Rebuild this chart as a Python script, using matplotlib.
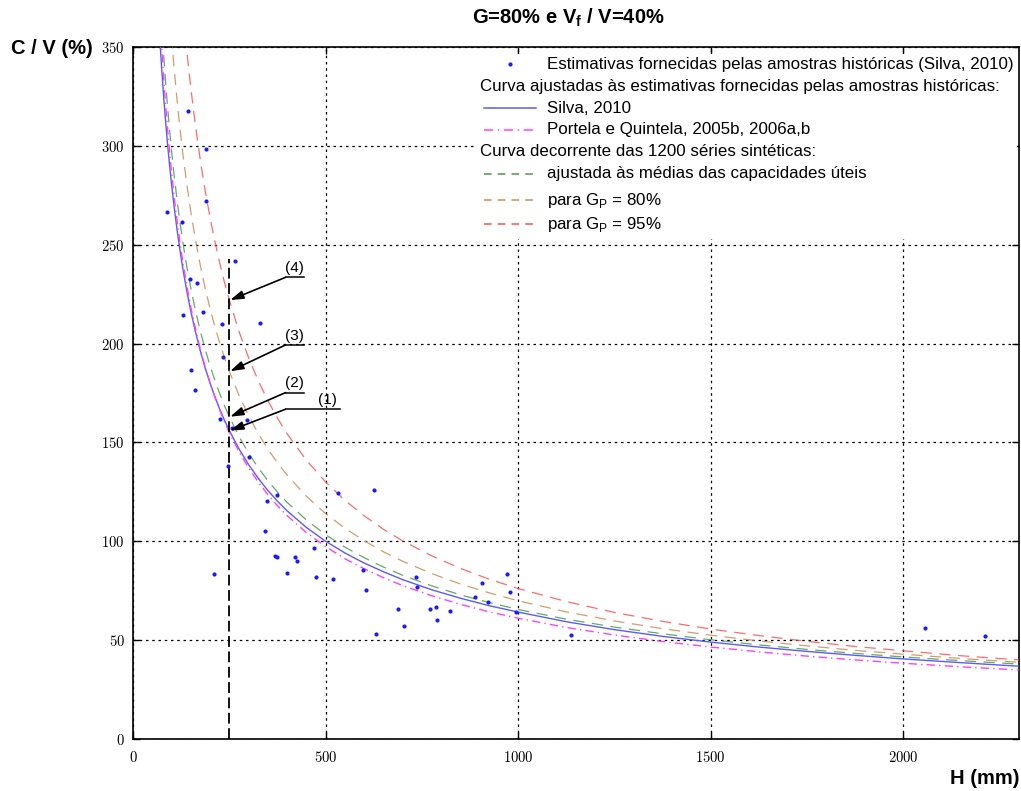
import matplotlib
matplotlib.use("Agg")
import matplotlib.pyplot as plt
from matplotlib.patches import Rectangle
from matplotlib.lines import Line2D

plt.rcParams['font.family'] = ['Liberation Sans', 'DejaVu Sans']
plt.rcParams['axes.formatter.use_mathtext'] = True

H_curva = [70, 75, 80, 85, 90, 95, 100, 107, 115, 122, 130, 140, 150, 162, 175, 187,
           200, 212, 225, 237, 250, 275, 300, 325, 350, 375, 400, 450, 500, 550, 600,
           650, 700, 775, 850, 925, 1000, 1125, 1250, 1375, 1500, 1625, 1750, 1875,
           2000, 2150, 2300]
cv_silva = [352.8, 337.5, 323.8, 311.5, 300.3, 290.1, 280.7, 268.8, 256.6, 247.1, 237.2,
            226.2, 216.4, 206.0, 196.1, 187.9, 180.0, 173.4, 166.9, 161.4, 156.0, 146.8,
            138.8, 131.9, 125.7, 120.3, 115.4, 107.0, 100.0, 94.1, 89.0, 84.6, 80.6, 75.5,
            71.2, 67.4, 64.2, 59.3, 55.3, 51.9, 49.0, 46.5, 44.3, 42.3, 40.5, 38.6, 36.8]
cv_portela = [364.6, 348.1, 333.3, 320.0, 308.0, 297.0, 286.9, 274.1, 261.2, 251.0, 240.5,
              228.8, 218.5, 207.5, 197.0, 188.4, 180.1, 173.2, 166.4, 160.7, 155.0, 145.4,
              137.1, 130.0, 123.6, 118.0, 113.0, 104.4, 97.3, 91.2, 86.1, 81.6, 77.6, 72.5,
              68.1, 64.3, 61.1, 56.4, 52.6, 49.3, 46.5, 44.1, 41.9, 40.0, 38.3, 36.5, 34.9]
cv_medias = [376.4, 359.7, 344.7, 331.3, 319.1, 307.9, 297.7, 284.7, 271.6, 261.2, 250.5,
             238.6, 228.1, 216.8, 206.1, 197.3, 188.8, 181.7, 174.7, 168.8, 163.0, 153.1,
             144.6, 137.2, 130.7, 124.9, 119.7, 110.8, 103.3, 97.1, 91.7, 87.0, 82.8, 77.5,
             72.9, 69.0, 65.5, 60.6, 56.6, 53.2, 50.2, 47.6, 45.3, 43.3, 41.5, 39.6, 37.9]
cv_gp80 = [456.9, 435.2, 415.8, 398.4, 382.6, 368.3, 355.2, 338.6, 321.8, 308.7, 295.1,
           280.1, 266.8, 252.7, 239.3, 228.3, 217.7, 209.0, 200.4, 193.1, 186.0, 173.9,
           163.5, 154.5, 146.7, 139.7, 133.5, 122.8, 114.0, 106.6, 100.3, 94.7, 89.9, 83.7,
           78.4, 73.9, 69.9, 64.3, 59.7, 55.8, 52.5, 49.6, 47.1, 44.8, 42.9, 40.7, 38.8]
cv_gp95 = [593.3, 562.5, 535.2, 510.8, 488.7, 468.7, 450.5, 427.5, 404.4, 386.3, 367.9,
           347.4, 329.4, 310.4, 292.4, 277.8, 263.7, 252.2, 240.8, 231.3, 222.0, 206.2,
           192.9, 181.3, 171.2, 162.3, 154.4, 141.0, 130.0, 120.7, 112.9, 106.1, 100.2, 92.7,
           86.3, 80.8, 76.1, 69.5, 64.0, 59.5, 55.6, 52.3, 49.4, 46.8, 44.6, 42.1, 40.0]

# estimativas das amostras históricas (Silva, 2010)
H_amostras = [144, 190, 190, 88, 126, 264, 148, 166, 131, 182, 230, 330, 233, 150, 162,
              226, 297, 258, 301, 246, 375, 347, 342, 369, 375, 209, 399, 420, 426, 470,
              475, 518, 531, 625, 598, 606, 632, 689, 704, 735, 736, 772, 786, 790, 822,
              887, 907, 922, 972, 978, 994, 1137, 2056, 2212]
cv_amostras = [317.8, 298.4, 272.1, 266.4, 261.7, 241.9, 232.5, 230.8, 214.6, 216.1, 209.9,
               210.3, 193.4, 186.6, 176.5, 161.9, 161.2, 157.5, 142.5, 138.2, 123.3, 120.2,
               105.1, 92.6, 92.1, 83.3, 84.0, 92.2, 89.9, 96.5, 82.1, 80.9, 124.4, 126.1,
               85.5, 75.5, 53.0, 65.6, 57.3, 82.1, 76.7, 65.9, 66.6, 60.3, 64.6, 72.0, 78.9,
               69.3, 83.5, 74.5, 64.2, 52.4, 56.0, 52.1]

H_ref = 250
i_ref = H_curva.index(H_ref)

c_pts = '#1a1aff'
c_silva = '#5a5aff'
c_portela = '#ff40ff'
c_medias = '#4c9a4c'
c_gp80 = '#d08a50'
c_gp95 = '#ff5050'
tracejado = (0, (9, 6))
traco_ponto = (0, (6, 3, 1, 3))

fig = plt.figure(figsize=(10.21, 7.91), dpi=100)
ax = fig.add_axes([133 / 1021, 52 / 791, 886 / 1021, 692 / 791])

ax.set_xlim(0, 2300)
ax.set_ylim(0, 350)
ax.set_xticks([0, 500, 1000, 1500, 2000])
ax.set_yticks(range(0, 351, 50))
ax.grid(True, color='k', linestyle=(0, (2, 3)), linewidth=0.9)
for lab in ax.get_xticklabels() + ax.get_yticklabels():
    lab.set_family('cmr10')
    lab.set_fontsize(10.5)
ax.tick_params(direction='in', top=True, right=True, length=5, width=1)
ax.tick_params(axis='x', pad=8)
ax.tick_params(axis='y', pad=6)
for s in ax.spines.values():
    s.set_linewidth(1.2)

ax.plot(H_curva, cv_silva, color=c_silva, lw=1.0, zorder=3)
ax.plot(H_curva, cv_portela, color=c_portela, lw=1.0, ls=traco_ponto, zorder=3)
ax.plot(H_curva, cv_medias, color=c_medias, lw=0.9, ls=tracejado, alpha=0.85, zorder=3)
ax.plot(H_curva, cv_gp80, color=c_gp80, lw=0.9, ls=tracejado, alpha=0.85, zorder=3)
ax.plot(H_curva, cv_gp95, color=c_gp95, lw=0.9, ls=tracejado, alpha=0.85, zorder=3)
ax.plot(H_amostras, cv_amostras, 'o', color=c_pts, ms=3, mew=0, zorder=4)

# linha vertical em H = 250 mm
ax.plot([H_ref, H_ref], [0, 243], color='k', lw=1.3, ls=(0, (6, 2.5)), zorder=3)

# chamadas (1) a (4)
chamadas = [('(1)', cv_silva[i_ref], 166.8, 538, 506),
            ('(2)', cv_medias[i_ref], 175.2, 443, 419),
            ('(3)', cv_gp80[i_ref], 199.3, 443, 419),
            ('(4)', cv_gp95[i_ref], 233.5, 443, 419)]
for txt, alvo, y_lin, x_fim, x_txt in chamadas:
    ax.annotate('', xy=(H_ref + 2, alvo), xytext=(396, y_lin),
                arrowprops=dict(arrowstyle='-|>,head_length=0.8,head_width=0.25',
                                color='k', lw=1.2, shrinkA=0, shrinkB=0), zorder=5)
    ax.plot([396, x_fim], [y_lin, y_lin], color='k', lw=1.1, zorder=5)
    ax.text(x_txt, y_lin + 1.2, txt, ha='center', va='bottom', fontsize=11, zorder=5)

# legenda montada à mão
ax.add_patch(Rectangle((0.385, 0.722), 0.613, 0.268, transform=ax.transAxes,
                       facecolor='white', edgecolor='none', zorder=6))
fs = 12.2
x_h0, x_h1, x_txt, x_cab = 0.3962, 0.4549, 0.4673, 0.3916
ax.plot([0.4255], [0.9754], 'o', color=c_pts, ms=3, mew=0, transform=ax.transAxes, zorder=7)
ax.text(x_txt, 0.9754, 'Estimativas fornecidas pelas amostras históricas (Silva, 2010)',
        transform=ax.transAxes, va='center', fontsize=fs, zorder=7)
ax.text(x_cab, 0.9436, 'Curva ajustadas às estimativas fornecidas pelas amostras históricas:',
        transform=ax.transAxes, va='center', fontsize=fs, zorder=7)
ax.text(x_cab, 0.8483, 'Curva decorrente das 1200 séries sintéticas:',
        transform=ax.transAxes, va='center', fontsize=fs, zorder=7)
itens = [(0.9118, c_silva, '-', 'Silva, 2010'),
         (0.8801, c_portela, traco_ponto, 'Portela e Quintela, 2005b, 2006a,b'),
         (0.8165, c_medias, (0, (5, 4)), 'ajustada às médias das capacidades úteis'),
         (0.7789, c_gp80, (0, (5, 4)), r'para G$_\mathregular{P}$ = 80%'),
         (0.7442, c_gp95, (0, (5, 4)), r'para G$_\mathregular{P}$ = 95%')]
for y, cor, estilo, rot in itens:
    ax.add_line(Line2D([x_h0, x_h1], [y, y], color=cor, ls=estilo, lw=1.1,
                       transform=ax.transAxes, zorder=7))
    ax.text(x_txt, y, rot, transform=ax.transAxes, va='center', fontsize=fs, zorder=7)

fig.text(568 / 1021, 1 - 18 / 791, r'G=80% e V$_\mathregular{f}$ / V=40%', ha='center',
         va='center', fontsize=14.5, fontweight='bold')
fig.text(52 / 1021, 1 - 48 / 791, 'C / V (%)', ha='center', va='center', fontsize=14.5,
         fontweight='bold')
fig.text(1019 / 1021, 1 - 778 / 791, 'H (mm)', ha='right', va='center', fontsize=14.5,
         fontweight='bold')

fig.savefig('out.png', dpi=100)
